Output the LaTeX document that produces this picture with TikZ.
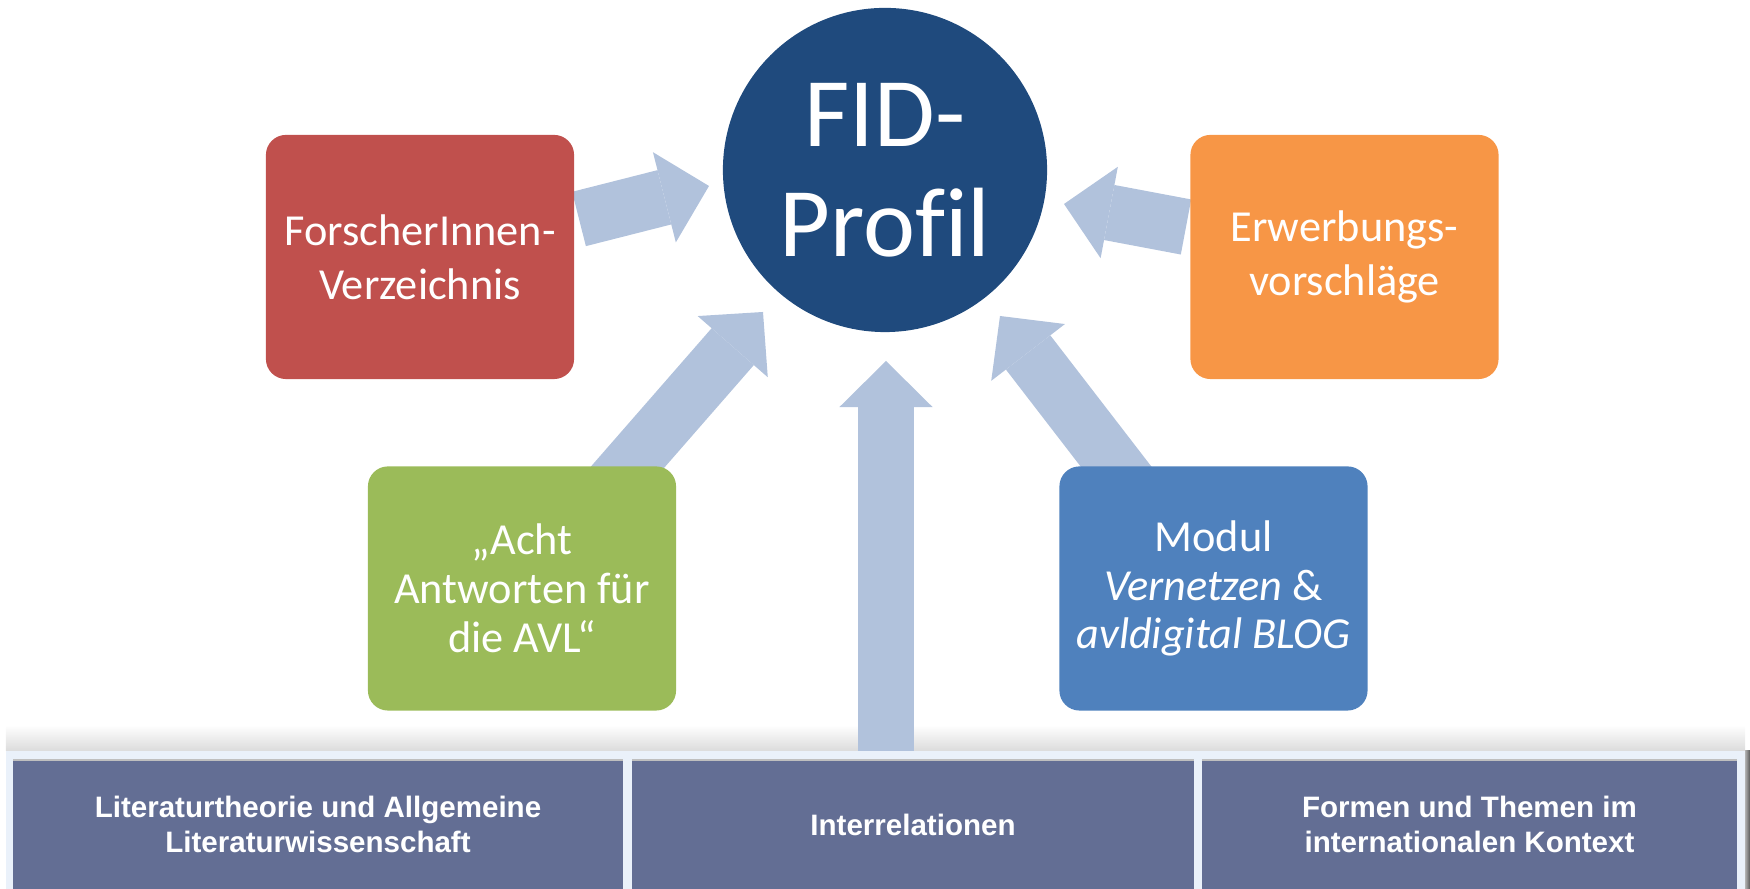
\documentclass[tikz,border=0pt]{standalone}
\usepackage{fontspec}
\setmainfont{Carlito}[Ligatures=NoCommon]
\newfontfamily\barfont{Liberation Sans}
\usetikzlibrary{arrows.meta,backgrounds}

\definecolor{fidblue}{HTML}{1F4A7D}
\definecolor{fidred}{HTML}{C0504D}
\definecolor{fidorange}{HTML}{F79646}
\definecolor{fidgreen}{HTML}{9BBB59}
\definecolor{fidmid}{HTML}{4F81BD}
\definecolor{fidarrow}{HTML}{B1C2DC}
\definecolor{fidbar}{HTML}{636E94}
\definecolor{fidstrip}{HTML}{EAF1FA}

\tikzset{
  tile/.style={rounded corners=0.2cm, minimum width=3.08cm, minimum height=2.44cm,
    text=white, align=center, inner sep=0pt, font=\fontsize{12.6}{15.4}\selectfont},
  flow/.style={fidarrow, line width=0.56cm,
    -{Triangle[length=0.46cm, width=0.93cm, line width=0pt]}},
  fieldbox/.style={fill=fidbar, minimum height=1.29cm, text=white, align=center,
    inner sep=0pt, font=\barfont\bfseries\fontsize{8.4}{10.2}\selectfont}
}

\begin{document}
\begin{tikzpicture}[x=0.01cm, y=0.01cm]
    \useasboundingbox (0,0) rectangle (1750,889);

    % centre
    \node[circle, fill=fidblue, minimum size=3.24cm, inner sep=0pt, text=white,
      align=center, font=\fontsize{28}{31.3}\selectfont] (profil) at (885,719) {FID-\\Profil};

    % boxes
    \node[tile, fill=fidred] (forscher) at (420,632) {ForscherInnen-\\Verzeichnis};
    \node[tile, fill=fidorange] (erwerb) at (1344.5,632) {Erwerbungs-\\vorschläge};
    \node[tile, fill=fidgreen, font=\fontsize{12.6}{13.9}\selectfont] (acht) at (522,300.5)
      {„Acht\\Antworten für\\die AVL“};
    \node[tile, fill=fidmid, font=\fontsize{12.6}{13.9}\selectfont] (modul) at (1213.5,300.5)
      {Modul\\\textit{Vernetzen} \&\\\textit{avldigital BLOG}};

    % strip
    \fill[fidstrip] (6,0) rectangle (1745,138);
    \node[fieldbox, minimum width=6.10cm] (theorie) at (318,64.5)
      {Literaturtheorie und Allgemeine\\Literaturwissenschaft};
    \node[fieldbox, minimum width=5.62cm] (inter) at (913,64.5) {Interrelationen};
    \node[fieldbox, minimum width=5.35cm] (formen) at (1469.5,64.5)
      {Formen und Themen im\\internationalen Kontext};
    \foreach \a/\b in {13/623, 632/1194, 1202/1737}
        \draw[black!25, line width=0.4pt] (\a,129) -- (\b,129);

    % arrows
    \coordinate (fromForscher) at (579,670);
    \coordinate (toForscher) at (709,703);
    \coordinate (fromErwerb) at (1186,662);
    \coordinate (toErwerb) at (1064,685);
    \coordinate (fromAcht) at (612,404);
    \coordinate (toAcht) at (763,577);
    \coordinate (fromModul) at (1131,403);
    \coordinate (toModul) at (1000,573);
    \coordinate (fromInter) at (886,120);
    \coordinate (toInter) at (886,528);
    \begin{scope}[on background layer]
        \shade[top color=white, bottom color=black!14] (6,138) rectangle (1745,164);
        \shade[left color=black!30, right color=black!65] (1745,0) rectangle (1750,138);
        \foreach \n in {Forscher, Erwerb, Acht, Modul, Inter}
            \draw[flow] (from\n) -- (to\n);
    \end{scope}
\end{tikzpicture}
\end{document}
